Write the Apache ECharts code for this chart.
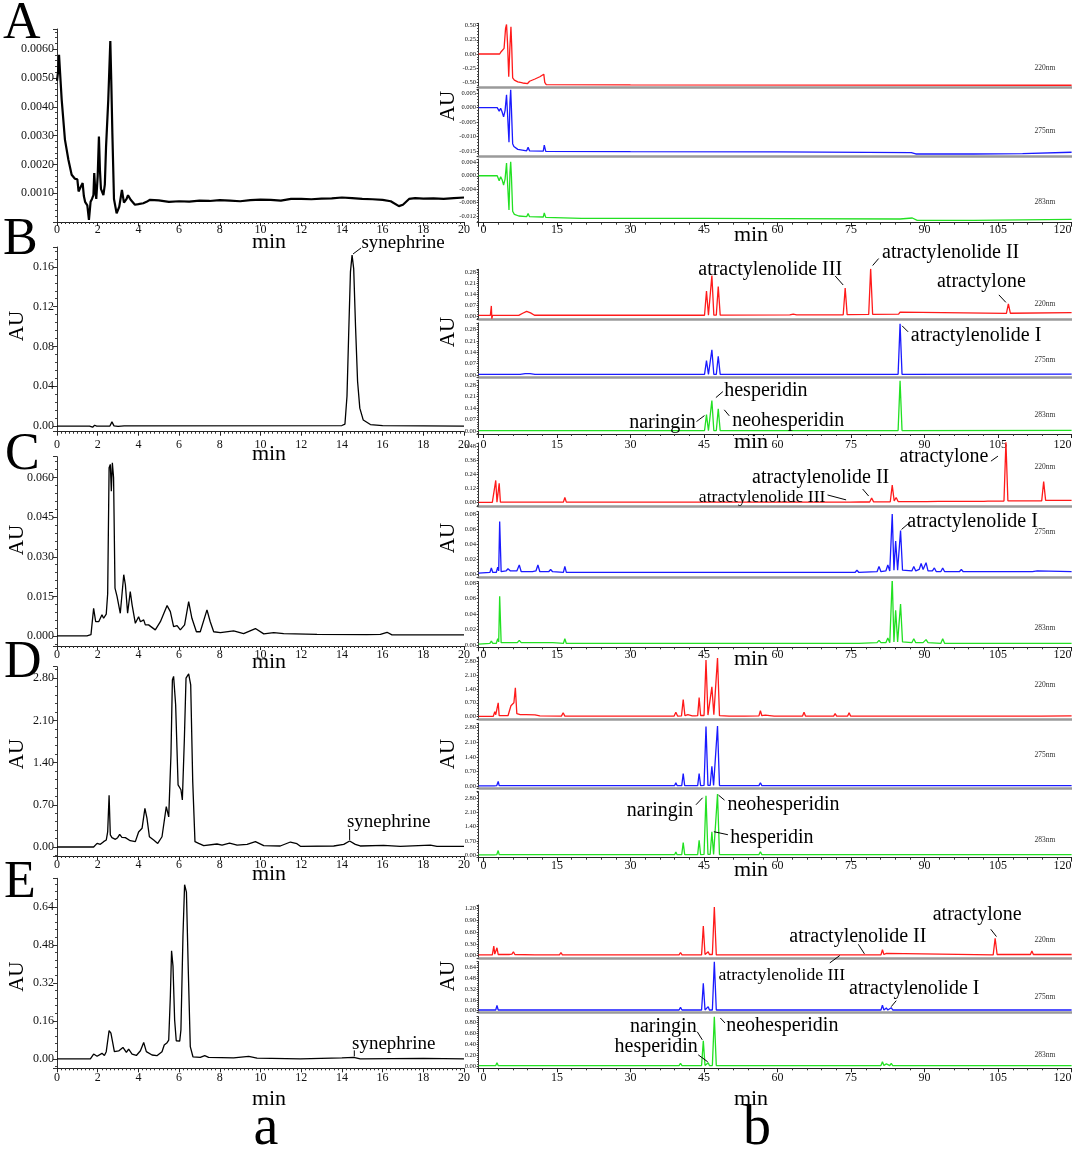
<!DOCTYPE html>
<html lang="en">
<head>
  <meta charset="UTF-8">
  <title>HPLC chromatograms</title>
  <script src="https://cdn.jsdelivr.net/npm/echarts@6/dist/echarts.min.js"></script>
</head>
<body style="margin:0;background:#fff">
<div id="main" style="width:1072px;height:1152px;"></div>
<script>
  //---------- data: [min, AU] ----------
  //left column, 0-20 min
  const leftA = [[0,0.0049],[0.05,0.0052],[0.1,0.0058],[0.15,0.0052],[0.23,0.00425],[0.39,0.00286],[0.56,0.00216],[0.72,0.00164],[0.88,0.0015],[0.95,0.00155],[1.0,0.00148],[1.06,0.00106],[1.15,0.0012],[1.21,0.00128],[1.26,0.00135],[1.32,0.0009],[1.38,0.0007],[1.49,0.00058],[1.57,0.00007],[1.65,0.0007],[1.72,0.0008],[1.79,0.00093],[1.83,0.0017],[1.88,0.0011],[1.93,0.0008],[2.0,0.0016],[2.06,0.00297],[2.11,0.0018],[2.16,0.00115],[2.28,0.00093],[2.35,0.0013],[2.41,0.0026],[2.52,0.00425],[2.62,0.00628],[2.67,0.0048],[2.72,0.0031],[2.8,0.0008],[2.93,0.0003],[3.06,0.00053],[3.19,0.00111],[3.29,0.00067],[3.42,0.0008],[3.49,0.00093],[3.62,0.00077],[3.83,0.0006],[4.0,0.00062],[4.24,0.00065],[4.4,0.0007],[4.57,0.00077],[5.0,0.00075],[5.5,0.0007],[6.0,0.00072],[6.5,0.00071],[7.0,0.00074],[7.5,0.00073],[8.0,0.00076],[8.5,0.00074],[9.0,0.00072],[9.5,0.00076],[10,0.00078],[10.5,0.00077],[11,0.00074],[11.5,0.0008],[12,0.0008],[12.5,0.00079],[13,0.00081],[13.5,0.00082],[14,0.00085],[14.5,0.00083],[15,0.0008],[15.5,0.00079],[16,0.00077],[16.4,0.00072],[16.8,0.00055],[17.0,0.0006],[17.3,0.0008],[17.6,0.00083],[18,0.00081],[18.5,0.00082],[19,0.0008],[19.5,0.00083],[20,0.00085]];
  const leftB = [[0,0],[1.6,0],[1.75,-0.0012],[1.85,0.0008],[1.95,0],[2.6,0],[2.7,0.0042],[2.8,0.0002],[3.0,-0.0003],[3.3,0.0002],[14.0,0.0005],[14.15,0.002],[14.25,0.03],[14.33,0.09],[14.42,0.155],[14.5,0.172],[14.58,0.158],[14.67,0.1],[14.77,0.045],[14.88,0.018],[15.05,0.006],[15.4,0.0015],[16,0.0004],[20,0]];
  const leftC = [[0,0],[1.47,0],[1.56,-0.0005],[1.67,0.0005],[1.8,0.0105],[1.9,0.0054],[2.05,0.0054],[2.21,0.008],[2.29,0.0067],[2.42,0.0083],[2.49,0.016],[2.56,0.0637],[2.62,0.065],[2.67,0.0548],[2.72,0.0656],[2.78,0.06],[2.85,0.0181],[2.95,0.015],[3.11,0.0086],[3.28,0.0232],[3.36,0.0194],[3.47,0.0086],[3.6,0.0168],[3.69,0.0118],[3.85,0.0048],[4.01,0.0073],[4.1,0.0054],[4.26,0.0061],[4.34,0.0042],[4.5,0.0042],[4.83,0.0023],[5.08,0.0054],[5.41,0.0115],[5.57,0.0092],[5.73,0.0035],[5.9,0.0039],[6.06,0.0023],[6.27,0.0042],[6.47,0.013],[6.63,0.0067],[6.85,0.0016],[7.04,0.0016],[7.37,0.0099],[7.53,0.0054],[7.7,0.0016],[8.03,0.0013],[8.68,0.0019],[9.17,0.0009],[9.75,0.0028],[10.16,0.0008],[10.65,0.0013],[11.14,0.0009],[12.78,0.0006],[15.23,0.0005],[15.89,0.0006],[16.22,0.0014],[16.46,0.0004],[17.69,0.0004],[20,0.0004]];
  const leftD = [[0,0],[1.8,0],[1.97,0.06],[2.13,0.044],[2.29,0.089],[2.42,0.116],[2.49,0.25],[2.56,0.86],[2.62,0.2],[2.7,0.155],[2.87,0.127],[2.98,0.155],[3.08,0.21],[3.19,0.16],[3.36,0.155],[3.6,0.105],[3.85,0.089],[4.01,0.25],[4.18,0.31],[4.32,0.64],[4.42,0.48],[4.54,0.17],[4.75,0.116],[4.95,0.06],[5.16,0.17],[5.37,0.67],[5.49,0.5],[5.6,1.53],[5.67,2.77],[5.73,2.83],[5.83,2.36],[5.95,1.03],[6.03,1.0],[6.09,0.95],[6.16,0.78],[6.26,1.8],[6.34,2.8],[6.47,2.87],[6.57,2.69],[6.67,1.08],[6.78,0.089],[6.96,0.06],[7.21,0.022],[7.86,0.05],[8.11,0.033],[8.48,0.066],[8.85,0.033],[9.34,0.044],[9.75,0.089],[10.16,0.022],[10.97,0.017],[11.47,0.083],[11.79,0.055],[11.96,0.011],[13.6,0.017],[14.09,0.044],[14.38,0.1],[14.66,0.044],[14.9,0.017],[16.05,0.028],[16.87,0.011],[18.35,0.033],[18.67,0.011],[20,0.011]];
  const leftE = [[0,0],[1.64,0],[1.8,0.02],[1.97,0.011],[2.21,0.023],[2.33,0.014],[2.42,0.03],[2.56,0.119],[2.65,0.108],[2.82,0.03],[3.03,0.033],[3.24,0.048],[3.41,0.027],[3.52,0.041],[3.69,0.02],[3.9,0.014],[4.1,0.034],[4.26,0.069],[4.39,0.03],[4.67,0.016],[4.91,0.013],[5.16,0.03],[5.27,0.058],[5.41,0.068],[5.49,0.079],[5.57,0.263],[5.63,0.455],[5.7,0.39],[5.78,0.164],[5.86,0.076],[6.03,0.074],[6.09,0.122],[6.19,0.518],[6.27,0.733],[6.36,0.702],[6.45,0.377],[6.55,0.051],[6.68,0.0085],[7.04,0.006],[7.26,0.013],[7.45,0.006],[8.68,0.004],[9.42,0.01],[9.83,0.003],[11.96,0],[14.0,0.004],[14.58,0.006],[14.9,0],[18.0,0.0015],[20,0]];

  //right column, 0-120 min, 220 / 275 / 283 nm
  const redA = [[-1,0],[3.3,0],[3.6,0.04],[3.9,0.03],[4.2,0.1],[4.5,0.45],[4.7,0.52],[4.9,0.2],[5.15,-0.4],[5.35,0.05],[5.6,0.48],[5.75,0.15],[5.95,-0.42],[6.3,-0.46],[7.0,-0.49],[8.0,-0.51],[9.0,-0.52],[9.4,-0.48],[10.5,-0.44],[11.5,-0.40],[12.3,-0.355],[12.5,-0.5],[12.8,-0.54],[30,-0.545],[120,-0.55]];
  const blueA = [[-1,0],[2.8,0],[3.2,-0.0012],[3.5,-0.0002],[3.8,-0.0015],[4.1,-0.0032],[4.4,-0.001],[4.7,0.0045],[4.9,-0.002],[5.2,-0.012],[5.4,0.002],[5.55,0.0062],[5.7,-0.0005],[5.8,-0.001],[5.95,-0.0125],[6.2,-0.0135],[7,-0.0145],[8.8,-0.015],[9.1,-0.0138],[9.4,-0.015],[12.2,-0.0151],[12.4,-0.013],[12.7,-0.0152],[30,-0.0153],[60,-0.0154],[87.3,-0.0156],[88.2,-0.0161],[100,-0.0161],[110,-0.016],[120,-0.0155]];
  const greenA = [[-1,0],[2.8,0],[3.2,-0.0015],[3.5,-0.0003],[3.8,-0.0012],[4.1,-0.0028],[4.4,-0.001],[4.7,0.0038],[4.9,-0.002],[5.2,-0.0102],[5.4,0.001],[5.55,0.0042],[5.7,-0.0002],[5.95,-0.0106],[6.3,-0.0115],[7.2,-0.012],[8.8,-0.0122],[9.1,-0.0113],[9.4,-0.0122],[12.2,-0.0123],[12.4,-0.0111],[12.7,-0.0124],[20,-0.0127],[45,-0.0127],[60,-0.0128],[85,-0.0129],[87.5,-0.0126],[88.5,-0.0133],[100,-0.0133],[120,-0.013]];

  const redB = [[-1,0.004],[1.4,0.004],[1.6,0.065],[1.7,-0.017],[1.85,0.004],[2.5,0.004],[2.7,0.012],[2.9,0.004],[7.2,0.004],[8.0,0.018],[8.8,0.03],[9.6,0.02],[10.4,0.005],[45.1,0.005],[45.5,0.16],[45.9,0.006],[46.2,0.006],[46.6,0.26],[47.0,0.006],[47.5,0.006],[47.9,0.19],[48.3,0.006],[62.5,0.007],[63.2,0.012],[63.9,0.007],[73.4,0.008],[73.8,0.18],[74.2,0.009],[78.6,0.01],[79.0,0.305],[79.4,0.011],[84.7,0.012],[85.0,0.025],[85.4,0.013],[106.7,0.017],[107.1,0.078],[107.5,0.018],[120,0.022]];
  const blueB = [[-1,0.003],[2.5,0.003],[2.7,0.01],[2.9,0.003],[7.5,0.003],[8.5,0.008],[9.5,0.008],[10.5,0.003],[45.1,0.003],[45.5,0.088],[45.9,0.003],[46.2,0.003],[46.6,0.155],[47.0,0.003],[47.5,0.003],[47.9,0.115],[48.3,0.003],[84.6,0.004],[85.0,0.315],[85.4,0.004],[120,0.005]];
  const greenB = [[-1,0.002],[2.5,0.002],[2.7,0.005],[2.9,0.002],[45.1,0.002],[45.5,0.10],[45.9,0.002],[46.2,0.002],[46.6,0.185],[47.0,0.002],[47.5,0.002],[47.9,0.135],[48.3,0.002],[84.6,0.003],[85.0,0.305],[85.4,0.003],[120,0.004]];

  const redC = [[-1,0.003],[1.8,0.003],[2.1,0.01],[2.5,0.19],[2.75,0.005],[2.95,0.005],[3.2,0.165],[3.45,0.005],[6.0,0.005],[6.3,0.012],[6.6,0.005],[11.0,0.005],[11.3,0.01],[11.6,0.005],[16.3,0.005],[16.6,0.045],[16.9,0.005],[74.0,0.005],[74.4,0.02],[74.8,0.005],[76.9,0.006],[77.3,0.012],[77.7,0.006],[78.8,0.006],[79.2,0.04],[79.6,0.007],[83.0,0.008],[83.4,0.15],[83.8,0.015],[84.0,0.015],[84.2,0.045],[84.6,0.01],[88.2,0.01],[88.6,0.015],[89.0,0.01],[89.6,0.01],[90.0,0.014],[90.4,0.01],[92.9,0.012],[93.3,0.02],[93.7,0.012],[102.1,0.012],[102.5,0.02],[102.9,0.013],[106.2,0.014],[106.6,0.52],[107.0,0.016],[113.9,0.016],[114.3,0.18],[114.7,0.02],[116.1,0.02],[116.5,0.03],[116.9,0.02],[117.8,0.02],[118.2,0.028],[118.6,0.02],[120,0.02]];
  const blueC = [[-1,0.001],[1.3,0.002],[1.6,0.008],[1.9,0.002],[2.6,0.002],[2.9,0.009],[3.1,0.004],[3.3,0.07],[3.6,0.003],[4.6,0.004],[5.0,0.007],[5.5,0.004],[6.1,0.004],[6.5,0.006],[6.8,0.004],[7.3,0.012],[7.7,0.003],[9.2,0.003],[9.6,0.005],[10,0.003],[10.7,0.004],[11.1,0.012],[11.5,0.003],[13.3,0.003],[13.7,0.006],[14.1,0.003],[16.3,0.002],[16.6,0.01],[16.9,0.002],[30,0.002],[60,0.002],[75.8,0.002],[76.2,0.005],[76.6,0.002],[80.3,0.003],[80.7,0.01],[81.1,0.003],[82.1,0.004],[82.5,0.012],[82.9,0.004],[83.1,0.004],[83.4,0.08],[83.75,0.005],[83.85,0.005],[84.1,0.044],[84.5,0.005],[84.8,0.005],[85.1,0.058],[85.5,0.005],[87.4,0.004],[87.8,0.01],[88.2,0.004],[88.9,0.006],[89.3,0.014],[89.7,0.006],[89.9,0.006],[90.3,0.015],[90.7,0.004],[91.6,0.004],[92.0,0.008],[92.4,0.003],[93.3,0.003],[93.7,0.008],[94.1,0.003],[97.1,0.003],[97.5,0.006],[97.9,0.003],[112,0.003],[113,0.004],[120,0.003]];
  const greenC = [[-1,0.001],[1.3,0.002],[1.6,0.005],[1.9,0.002],[2.6,0.002],[2.9,0.008],[3.1,0.004],[3.3,0.063],[3.6,0.003],[4.6,0.003],[5.0,0.004],[5.6,0.003],[6.1,0.003],[6.5,0.004],[6.9,0.003],[7.3,0.006],[7.7,0.003],[9.2,0.003],[9.5,0.005],[10,0.003],[10.8,0.003],[11.1,0.004],[11.5,0.003],[13.4,0.003],[13.7,0.004],[14.1,0.003],[16.3,0.002],[16.6,0.008],[16.9,0.002],[30,0.002],[75.8,0.002],[76.2,0.004],[76.6,0.002],[80.3,0.003],[80.7,0.006],[81.1,0.003],[82.1,0.003],[82.5,0.009],[82.9,0.003],[83.1,0.003],[83.4,0.086],[83.75,0.004],[83.85,0.004],[84.1,0.045],[84.5,0.004],[84.8,0.004],[85.1,0.053],[85.5,0.004],[87.4,0.003],[87.8,0.008],[88.2,0.003],[88.9,0.003],[89.3,0.005],[89.7,0.003],[89.9,0.003],[90.3,0.007],[90.7,0.003],[93.3,0.002],[93.7,0.008],[94.1,0.002],[97.1,0.002],[97.5,0.003],[97.9,0.002],[120,0.002]];

  const redD = [[-1,0.02],[2.0,0.02],[2.3,0.25],[2.5,0.1],[2.7,0.1],[3.0,0.7],[3.2,0.05],[5.0,0.05],[5.6,0.55],[5.9,0.62],[6.2,0.7],[6.5,1.45],[6.8,0.15],[7.5,0.1],[8.1,0.1],[8.4,0.16],[8.7,0.1],[10.5,0.09],[11.5,0.04],[15.9,0.03],[16.25,0.2],[16.6,0.03],[18.3,0.03],[18.6,0.06],[18.9,0.03],[29.4,0.03],[29.7,0.09],[30.0,0.03],[35.2,0.03],[35.5,0.08],[35.8,0.03],[36.6,0.03],[36.9,0.05],[37.2,0.03],[38.9,0.03],[39.25,0.22],[39.6,0.03],[40.4,0.04],[40.75,0.86],[41.1,0.05],[41.4,0.04],[41.7,0.1],[42.0,0.04],[42.6,0.04],[42.9,0.08],[43.2,0.04],[43.7,0.05],[44.0,0.96],[44.3,0.06],[45.0,0.06],[45.4,2.85],[45.8,0.08],[46.2,0.08],[46.6,1.5],[47.0,0.1],[47.35,0.1],[47.75,2.95],[48.15,0.05],[50.1,0.03],[50.4,0.06],[50.7,0.03],[52.7,0.03],[53.0,0.13],[53.3,0.03],[56.2,0.04],[56.5,0.3],[56.8,0.05],[57.2,0.04],[57.5,0.08],[57.8,0.03],[59.3,0.03],[59.6,0.05],[59.9,0.03],[65.1,0.03],[65.4,0.22],[65.7,0.03],[71.45,0.03],[71.75,0.15],[72.05,0.03],[72.9,0.03],[73.2,0.05],[73.5,0.03],[74.3,0.03],[74.6,0.2],[74.9,0.03],[77.7,0.03],[78.0,0.05],[78.3,0.03],[79.4,0.03],[79.7,0.13],[80.0,0.03],[94.0,0.03],[94.25,0.06],[94.5,0.03],[95.0,0.03],[95.25,0.06],[95.5,0.03],[113.2,0.03],[113.5,0.05],[113.8,0.03],[120,0.04]];
  const blueD = [[-1,0.01],[2.2,0.01],[2.5,0.05],[2.7,0.02],[3.0,0.22],[3.2,0.02],[6.2,0.02],[6.5,0.1],[6.8,0.02],[16.0,0.02],[16.25,0.06],[16.5,0.02],[29.5,0.02],[29.7,0.04],[29.9,0.02],[39.0,0.02],[39.25,0.15],[39.5,0.02],[40.45,0.02],[40.75,0.6],[41.05,0.02],[43.7,0.02],[44.0,0.6],[44.3,0.02],[45.0,0.03],[45.4,2.85],[45.8,0.03],[46.25,0.03],[46.6,0.95],[46.95,0.03],[47.35,0.03],[47.75,2.88],[48.15,0.02],[52.7,0.02],[53.0,0.04],[53.3,0.02],[56.2,0.02],[56.5,0.16],[56.8,0.02],[65.1,0.02],[65.4,0.08],[65.7,0.02],[74.3,0.02],[74.6,0.1],[74.9,0.02],[79.4,0.02],[79.7,0.08],[80.0,0.02],[120,0.02]];
  const greenD = [[-1,0.01],[2.2,0.01],[2.5,0.06],[2.7,0.02],[3.0,0.22],[3.2,0.02],[39.0,0.02],[39.25,0.15],[39.5,0.02],[40.45,0.02],[40.75,0.62],[41.05,0.02],[41.8,0.02],[42.0,0.05],[42.2,0.02],[43.7,0.02],[44.0,0.72],[44.3,0.02],[45.0,0.03],[45.4,2.92],[45.8,0.03],[46.25,0.03],[46.6,1.15],[46.95,0.03],[47.35,0.03],[47.75,3.0],[48.15,0.02],[56.2,0.02],[56.5,0.16],[56.8,0.02],[65.1,0.02],[65.4,0.08],[65.7,0.02],[74.3,0.02],[74.6,0.06],[74.9,0.02],[79.4,0.02],[79.7,0.08],[80.0,0.02],[120,0.02]];

  const redE = [[-1,0.02],[1.8,0.02],[2.1,0.24],[2.3,0.04],[2.5,0.04],[2.75,0.2],[3.0,0.03],[5.2,0.03],[5.5,0.05],[5.8,0.04],[6.1,0.1],[6.4,0.03],[10.5,0.02],[15.5,0.02],[15.8,0.08],[16.1,0.02],[39.9,0.02],[40.2,0.08],[40.5,0.02],[43.2,0.02],[43.5,0.05],[43.8,0.02],[44.5,0.02],[44.85,0.75],[45.2,0.03],[45.6,0.03],[45.85,0.10],[46.1,0.03],[46.7,0.03],[47.1,1.23],[47.5,0.02],[52.5,0.02],[52.7,0.03],[52.9,0.02],[56.1,0.02],[56.3,0.03],[56.5,0.02],[72.2,0.02],[72.5,0.03],[72.8,0.02],[77.1,0.02],[77.4,0.035],[77.7,0.02],[81.1,0.02],[81.4,0.15],[81.7,0.03],[81.9,0.03],[82.2,0.06],[82.5,0.02],[104.0,0.02],[104.4,0.44],[104.8,0.03],[111.6,0.03],[111.9,0.12],[112.2,0.03],[120,0.03]];
  const blueE = [[-1,0.01],[2.5,0.01],[2.75,0.08],[3.0,0.01],[5.8,0.01],[6.1,0.02],[6.4,0.01],[15.5,0.01],[15.8,0.015],[16.1,0.01],[39.9,0.01],[40.2,0.05],[40.5,0.01],[43.2,0.01],[43.5,0.03],[43.8,0.01],[44.5,0.01],[44.85,0.41],[45.2,0.01],[45.6,0.01],[45.85,0.06],[46.1,0.01],[46.7,0.01],[47.1,0.73],[47.5,0.01],[56.1,0.01],[56.3,0.015],[56.5,0.01],[81.1,0.01],[81.4,0.08],[81.7,0.01],[81.9,0.01],[82.2,0.04],[82.5,0.01],[82.9,0.01],[83.2,0.045],[83.5,0.01],[87.8,0.01],[88.0,0.015],[88.2,0.01],[120,0.01]];
  const greenE = [[-1,0.01],[2.5,0.01],[2.75,0.06],[3.0,0.01],[39.9,0.01],[40.2,0.05],[40.5,0.01],[43.2,0.01],[43.5,0.04],[43.8,0.01],[44.5,0.01],[44.85,0.46],[45.2,0.01],[45.6,0.01],[45.85,0.06],[46.1,0.01],[46.7,0.01],[47.1,0.90],[47.5,0.01],[81.1,0.01],[81.4,0.08],[81.7,0.01],[81.9,0.01],[82.2,0.04],[82.5,0.01],[82.9,0.01],[83.2,0.05],[83.5,0.01],[120,0.01]];

  //tick steps and label decimals
  const leftYStep = [0.001, 0.04, 0.015, 0.70, 0.16];
  const leftYDec = [4, 2, 3, 2, 2];
  const rightYStep = [[0.25, 0.005, 0.004], [0.07, 0.07, 0.07], [0.12, 0.02, 0.02], [0.70, 0.70, 0.70], [0.30, 0.16, 0.20]];
  const rightYDec = [[2, 3, 3], [2, 2, 2], [2, 2, 2], [2, 2, 2], [2, 2, 2]];
  const waveLabels = ['220nm', '275nm', '283nm'];
  const rowLetters = ['A', 'B', 'C', 'D', 'E'];

  //peak labels: grid, name, anchor (min, AU)
  const peakNames = [
    {g: 1, t: 'synephrine', x: 14.5, y: 0.172, fs: 19, d: [51, -11.6], l: [9, -7, 1, -1]},
    {g: 3, t: 'synephrine', x: 14.38, y: 0.1, fs: 19, d: [39, -19], l: [0, -12, 0, -1]},
    {g: 4, t: 'synephrine', x: 14.58, y: 0.006, fs: 19, d: [40, -13], l: [0.6, -7, 0.6, -1]},
    {g: 8, t: 'atractylenolide III', x: 73.8, y: 0.18, d: [-75, -18], l: [-10, -12, -2, -3]},
    {g: 8, t: 'atractylenolide II', x: 79.0, y: 0.305, d: [80, -16], l: [8, -10, 2, -3]},
    {g: 8, t: 'atractylone', x: 107.1, y: 0.078, d: [-27, -22], l: [-9.5, -9, -2.5, -1.5]},
    {g: 9, t: 'atractylenolide I', x: 85.0, y: 0.315, d: [76, 12], l: [2, 2, 8, 8]},
    {g: 10, t: 'hesperidin', x: 46.6, y: 0.185, d: [54, -10], l: [4, -3, 11, -9]},
    {g: 10, t: 'naringin', x: 45.5, y: 0.10, d: [-44, 8], l: [-10, 7, -2, 1]},
    {g: 10, t: 'neohesperidin', x: 47.9, y: 0.135, d: [70, 12], l: [6, 1, 11, 7]},
    {g: 11, t: 'atractylone', x: 106.6, y: 0.5, d: [-62, 13], l: [-15, 17, -8, 12]},
    {g: 11, t: 'atractylenolide II', x: 79.2, y: 0.04, d: [-51, -20], l: [-9, -9, -3, -2]},
    {g: 11, t: 'atractylenolide III', x: 74.4, y: 0.02, fs: 17.6, d: [-86, -3], l: [-20.6, -5.4, -2, -0.5]},
    {g: 12, t: 'atractylenolide I', x: 85.1, y: 0.058, d: [72, -9], l: [8, -7, 1, -1]},
    {g: 16, t: 'naringin', x: 45.4, y: 2.92, d: [-46, 15], l: [-10, 9, -3.4, 2]},
    {g: 16, t: 'neohesperidin', x: 47.75, y: 3.0, d: [66, 11], l: [1, 1, 7, 6]},
    {g: 16, t: 'hesperidin', x: 46.6, y: 1.15, d: [60, 6], l: [2, 0, 16, 3]},
    {g: 17, t: 'atractylone', x: 104.4, y: 0.44, d: [-18, -24], l: [-4.4, -9, 1.3, -1.7]},
    {g: 17, t: 'atractylenolide II', x: 77.4, y: 0.035, d: [-5, -18], l: [-4.5, -10, 1.6, -0.5]},
    {g: 17, t: 'atractylenolide III', x: 72.5, y: 0.03, fs: 17.6, d: [-57, 21], l: [1, 1, -9, 8.4]},
    {g: 18, t: 'atractylenolide I', x: 83.2, y: 0.045, d: [23, -19], l: [5, -7, 0, -1]},
    {g: 19, t: 'naringin', x: 44.85, y: 0.46, d: [-40, -14], l: [-6, -9, -1, -1]},
    {g: 19, t: 'hesperidin', x: 45.85, y: 0.06, d: [-52, -16], l: [-10, -8, -0.5, -1]},
    {g: 19, t: 'neohesperidin', x: 47.1, y: 0.9, d: [68, 9], l: [6, 1.3, 10.7, 6.3]}
  ];

  //---------- layout ----------
  const FONT = '"Liberation Serif", "Times New Roman", serif';
  const leftData = [leftA, leftB, leftC, leftD, leftE];
  const rightData = [[redA, blueA, greenA], [redB, blueB, greenB], [redC, blueC, greenC], [redD, blueD, greenD], [redE, blueE, greenE]];
  const traceColors = ['#ff1a1a', '#1a1aff', '#22e022'];
  const leftBox = [
    {top: 29, bottom: 222, min: 0, max: 0.0067, xm: 1.5},
    {top: 247, bottom: 431.7, min: -0.0057, max: 0.18, xm: 6.8},
    {top: 456.7, bottom: 646, min: -0.0038, max: 0.0679, xm: 3.2},
    {top: 666.7, bottom: 856, min: -0.149, max: 2.99, xm: 3.2},
    {top: 878.3, bottom: 1068.3, min: -0.04, max: 0.76, xm: 3.5}
  ];
  const rightBox = [
    [{top: 23.3, bottom: 87.3, min: -0.586, max: 0.54}, {top: 89, bottom: 156, min: -0.0168, max: 0.0065}, {top: 159, bottom: 222.7, min: -0.014, max: 0.005, xm: 0.8}],
    [{top: 269.3, bottom: 319.3, min: -0.021, max: 0.30}, {top: 323, bottom: 377.7, min: -0.017, max: 0.32}, {top: 380, bottom: 434, min: -0.018, max: 0.31, xm: 4.5}],
    [{top: 443, bottom: 506.7, min: -0.034, max: 0.51}, {top: 511.7, bottom: 577.7, min: -0.005, max: 0.083}, {top: 581.7, bottom: 647.3, min: -0.003, max: 0.082, xm: 1.2}],
    [{top: 657, bottom: 719, min: -0.116, max: 3.0}, {top: 723.3, bottom: 788.3, min: -0.11, max: 3.01}, {top: 791.7, bottom: 857.7, min: -0.13, max: 3.12, xm: 2.5}],
    [{top: 905, bottom: 958.3, min: -0.066, max: 1.28}, {top: 961.7, bottom: 1012.7, min: -0.03, max: 0.73}, {top: 1016.7, bottom: 1068.3, min: -0.04, max: 0.90, xm: 3.5}]
  ];
  const waveY = [[68.3, 130.7, 201.7], [304, 360, 415], [466.7, 531.7, 628.3], [685, 755, 840], [940, 996.7, 1055]];
  const letterPos = [[3, 24], [3, 240], [5, 455], [4, 663], [4, 883.5]];
  const leftMinY = [242.5, 454, 662.5, 874.5, 1099];
  const rightMinY = [235.5, 442.5, 659, 870.5, 1099];
  const leftAUY = [null, 326, 540, 754, 976.7];
  const rightAUY = [106, 332, 538, 754, 976];

  const onStep = (v, step) => Math.abs(v / step - Math.round(v / step)) < 1e-6;

  const grid = [], xAxis = [], yAxis = [], series = [];
  //one grid per trace
  function addPanel(box, side, showX, step, dec, data, color, width, hideZero) {
    const i = grid.length;
    const L = side === 'L';
    grid.push({left: L ? 57 : 478.6, width: L ? 407 : 593, top: box.top, height: box.bottom - box.top, outerBoundsMode: 'none'});
    xAxis.push({
      type: 'value', gridIndex: i, min: L ? 0 : -1, max: L ? 20 : 120,
      minInterval: L ? 2 : 15, maxInterval: L ? 2 : 15,
      axisLine: {show: true, onZero: false, lineStyle: showX ? {color: '#222', width: 1} : {color: '#9a9a9a', width: 2.5}},
      axisTick: {show: showX, length: 4, lineStyle: {color: '#222'}},
      minorTick: {show: showX, splitNumber: L ? 10 : 5, length: 2, lineStyle: {color: '#333'}},
      axisLabel: {
        show: showX, margin: box.xm, fontSize: 12, fontFamily: FONT, color: '#111',
        alignMaxLabel: L ? null : 'right',
        formatter: v => onStep(v, L ? 2 : 15) ? String(Math.round(v)) : ''
      },
      splitLine: {show: false}
    });
    yAxis.push({
      type: 'value', gridIndex: i, min: box.min, max: box.max,
      minInterval: step, maxInterval: step,
      axisLine: {show: true, onZero: false, lineStyle: {color: '#333', width: 1}},
      axisTick: {show: true, length: L ? 4 : 2, lineStyle: {color: '#333'}},
      minorTick: {show: true, splitNumber: 5, length: L ? 2 : 1.5, lineStyle: {color: '#444'}},
      axisLabel: {
        fontSize: L ? 12 : 6.5, margin: L ? 3 : 2.5, fontFamily: FONT, color: '#111',
        formatter: v => (!onStep(v, step) || (hideZero && Math.abs(v) < 1e-9)) ? '' : v.toFixed(dec)
      },
      splitLine: {show: false}
    });
    series.push({
      type: 'line', xAxisIndex: i, yAxisIndex: i, data: data, showSymbol: false, silent: true,
      lineStyle: {color: color, width: width}, itemStyle: {color: color}
    });
  }

  leftBox.forEach((b, r) => addPanel(b, 'L', true, leftYStep[r], leftYDec[r], leftData[r], '#000', r === 0 ? 2.2 : 1.3, r === 0));
  rightBox.forEach((row, r) => row.forEach((b, k) =>
    addPanel(b, 'R', k === 2, rightYStep[r][k], rightYDec[r][k], rightData[r][k], traceColors[k], 1.3, false)));

  const myChart = echarts.init(document.getElementById('main'));
  myChart.setOption({animation: false, textStyle: {fontFamily: FONT}, grid, xAxis, yAxis, series});

  //texts: letters, axis names, wavelengths, peak labels
  const txt = (x, y, s, size, extra) => Object.assign({
    type: 'text', x: x, y: y, z: 100,
    style: {text: s, fontSize: size, fontFamily: FONT, fill: '#000', align: 'center', verticalAlign: 'middle'}
  }, extra || {});
  const graphics = [];
  rowLetters.forEach((s, r) => {
    graphics.push(txt(letterPos[r][0], letterPos[r][1], s, 52));
    graphics[graphics.length - 1].style.align = 'left';
    graphics.push(txt(269, leftMinY[r], 'min', 22));
    graphics.push(txt(751, rightMinY[r], 'min', 22));
    if (leftAUY[r] != null) graphics.push(txt(17.5, leftAUY[r], 'AU', 21, {rotation: Math.PI / 2}));
    graphics.push(txt(448.5, rightAUY[r], 'AU', 21, {rotation: Math.PI / 2}));
    waveLabels.forEach((w, k) => {
      const t = txt(1045, waveY[r][k], w, 7.5);
      t.style.fill = '#333';
      graphics.push(t);
    });
  });
  graphics.push(txt(266, 1129, 'a', 56));
  graphics.push(txt(757, 1129, 'b', 56));

  peakNames.forEach(a => {
    const p = myChart.convertToPixel({gridIndex: a.g}, [a.x, a.y]);
    graphics.push(txt(p[0] + a.d[0], p[1] + a.d[1], a.t, a.fs || 20));
    graphics.push({
      type: 'line', z: 100,
      shape: {x1: p[0] + a.l[0], y1: p[1] + a.l[1], x2: p[0] + a.l[2], y2: p[1] + a.l[3]},
      style: {stroke: '#000', lineWidth: 1}
    });
  });
  myChart.setOption({graphic: graphics});
</script>
</body>
</html>
